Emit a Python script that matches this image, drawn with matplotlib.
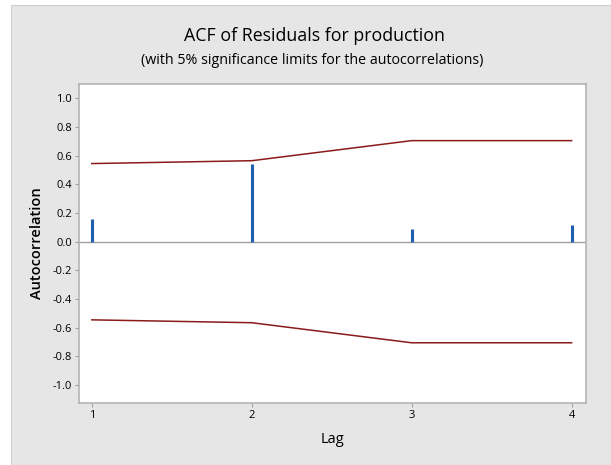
import matplotlib
matplotlib.use("Agg")
import matplotlib.pyplot as plt
import matplotlib.patches as mpatches

# data
lags = [1, 2, 3, 4]
acf_vals = [0.16, 0.54, 0.09, 0.12]
upper_lim = [0.545, 0.565, 0.705, 0.705]
lower_lim = [-0.545, -0.565, -0.705, -0.705]
yticks = [1.0, 0.8, 0.6, 0.4, 0.2, 0.0, -0.2, -0.4, -0.6, -0.8, -1.0]

plt.rcParams["font.family"] = ["Open Sans", "DejaVu Sans"]

W, H = 611, 465
fig = plt.figure(figsize=(W / 100, H / 100), dpi=100)
fig.patch.set_facecolor("white")
fig.patches.append(mpatches.Rectangle((11 / W, 0), 1 - 11 / W, 1 - 5 / H,
                                      transform=fig.transFigure, fc="#e6e6e6",
                                      ec="#d0d0d0", lw=0.8, zorder=-10))

ax = fig.add_axes([79 / W, 1 - 403 / H, (586 - 79) / W, (403 - 84) / H])
ax.set_facecolor("white")

ax.axhline(0, color="#a0a0a0", lw=1.0, zorder=1)
ax.vlines(lags, 0, acf_vals, colors="#1f5fae", lw=2.2, zorder=3)
ax.plot(lags, upper_lim, color="#8b1a1a", lw=1.1, zorder=2)
ax.plot(lags, lower_lim, color="#8b1a1a", lw=1.1, zorder=2)

ax.set_xlim(0.92, 4.09)
ax.set_ylim(-1.125, 1.1)
ax.set_xticks(lags)
ax.set_yticks(yticks)
ax.set_yticklabels([f"{v:.1f}" for v in yticks])
ax.tick_params(axis="both", direction="out", length=3, width=0.8,
               color="#a0a0a0", labelsize=8, pad=2)
for s in ax.spines.values():
    s.set_color("#b4b4b4")
    s.set_linewidth(1.2)

ax.set_xlabel("Lag", fontsize=10.5, labelpad=8)
ax.set_ylabel("Autocorrelation", fontsize=10.5, fontweight="semibold", labelpad=6)

fig.text(314 / W, 1 - 36 / H, "ACF of Residuals for production",
         ha="center", va="center", fontsize=12.8)
fig.text(312 / W, 1 - 60 / H, "(with 5% significance limits for the autocorrelations)",
         ha="center", va="center", fontsize=10.3)

fig.savefig("out.png", dpi=100)
